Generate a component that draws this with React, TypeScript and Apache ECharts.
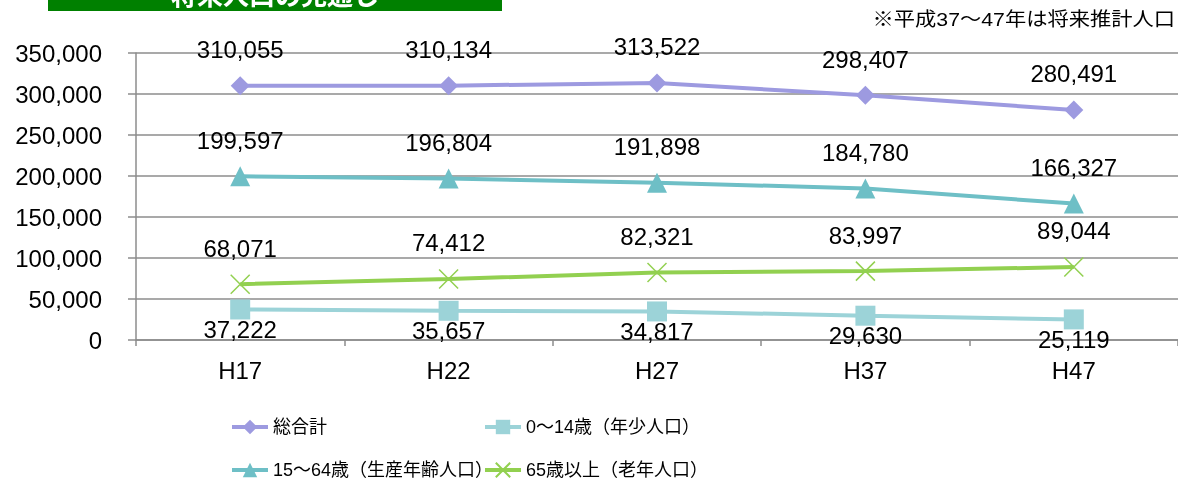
import React, { useEffect, useRef } from "react";
import * as echarts from "echarts";

const categories = ["H17", "H22", "H27", "H37", "H47"];
const totalValues = [310055, 310134, 313522, 298407, 280491];
const youngValues = [37222, 35657, 34817, 29630, 25119];
const workingValues = [199597, 196804, 191898, 184780, 166327];
const oldValues = [68071, 74412, 82321, 83997, 89044];
const yTicks = { min: 0, max: 350000, interval: 50000 };

const seriesNames = {
  total: "総合計",
  young: "0～14歳（年少人口）",
  working: "15～64歳（生産年齢人口）",
  old: "65歳以上（老年人口）",
};

const FONT = "'Liberation Sans', Arial, 'Noto Sans CJK JP', sans-serif";
const fmt = (v: number) => v.toLocaleString("en-US");

export default function App() {
  const ref = useRef<HTMLDivElement>(null);
  useEffect(() => {
    if (!ref.current) return;
    const chart = echarts.init(ref.current, null, { renderer: "svg" });
    const labelTop = {
      show: true,
      position: "inside",
      offset: [0, -36],
      color: "#000",
      fontSize: 24,
      fontFamily: FONT,
      formatter: (p: any) => fmt(p.value),
    };
    const labelBottom = { ...labelTop, offset: [0, 20] };
    const mk = (name: string, data: number[], color: string, symbol: string, size: number, label: any, extraItem: any = {}) => ({
      name,
      type: "line",
      data,
      symbol,
      symbolSize: size,
      lineStyle: { color, width: 4 },
      itemStyle: { color, ...extraItem },
      label,
      z: 3,
    });
    const leg = (name: string, left: number, top: number) => ({
      data: [name],
      left,
      top,
      itemWidth: 36,
      itemHeight: 18,
      padding: 0,
      lineStyle: { width: 4 },
      textStyle: { fontSize: 18, color: "#000", fontFamily: FONT },
    });
    chart.setOption({
      animation: false,
      grid: { left: 136, right: 0, top: 53, bottom: 142, containLabel: false },
      xAxis: {
        type: "category",
        data: categories,
        boundaryGap: true,
        axisLine: { lineStyle: { color: "#8c8c8c", width: 1.5 } },
        axisTick: { show: true, length: 6, alignWithLabel: false, lineStyle: { color: "#8c8c8c", width: 1.5 } },
        axisLabel: { color: "#000", fontSize: 24, fontFamily: FONT, margin: 18 },
      },
      yAxis: {
        type: "value",
        min: yTicks.min,
        max: yTicks.max,
        interval: yTicks.interval,
        axisLine: { show: true, lineStyle: { color: "#8c8c8c", width: 1.5 } },
        axisTick: { show: true, length: 8, lineStyle: { color: "#8c8c8c", width: 1.5 } },
        splitLine: { lineStyle: { color: "#8c8c8c", width: 1.5 } },
        axisLabel: { color: "#000", fontSize: 24, fontFamily: FONT, margin: 34, formatter: (v: number) => fmt(v) },
      },
      legend: [
        leg(seriesNames.total, 230, 418),
        leg(seriesNames.working, 230, 461),
        leg(seriesNames.young, 483, 418),
        leg(seriesNames.old, 483, 461),
      ],
      graphic: [
        { type: "rect", shape: { x: 48, y: -20, width: 454, height: 31 }, style: { fill: "#008000" }, z: 10 },
        {
          type: "text",
          x: 275,
          y: -4,
          style: { text: "将来人口の見通し", fill: "#fff", fontSize: 26, fontWeight: "bold", fontFamily: FONT, align: "center", verticalAlign: "middle" },
          z: 11,
        },
        {
          type: "text",
          x: 1175,
          y: 19,
          scaleX: 1.12,
          style: { text: "※平成37～47年は将来推計人口", fill: "#000", fontSize: 19, fontFamily: FONT, align: "right", verticalAlign: "middle" },
        },
      ],
      series: [
        mk(seriesNames.total, totalValues, "#9d9ae0", "diamond", 19, labelTop),
        mk(seriesNames.young, youngValues, "#9cd3d8", "rect", 20, labelBottom),
        mk(seriesNames.working, workingValues, "#6ebfc6", "triangle", 20, labelTop),
        mk(seriesNames.old, oldValues, "#92d050", "path://M0,0L20,20M20,0L0,20", 19, labelTop, { borderColor: "#92d050", borderWidth: 1.5 }),
      ],
    });
    return () => chart.dispose();
  }, []);
  return <div ref={ref} style={{ position: "fixed", left: 0, top: 0, width: 1178, height: 482 }} />;
}
